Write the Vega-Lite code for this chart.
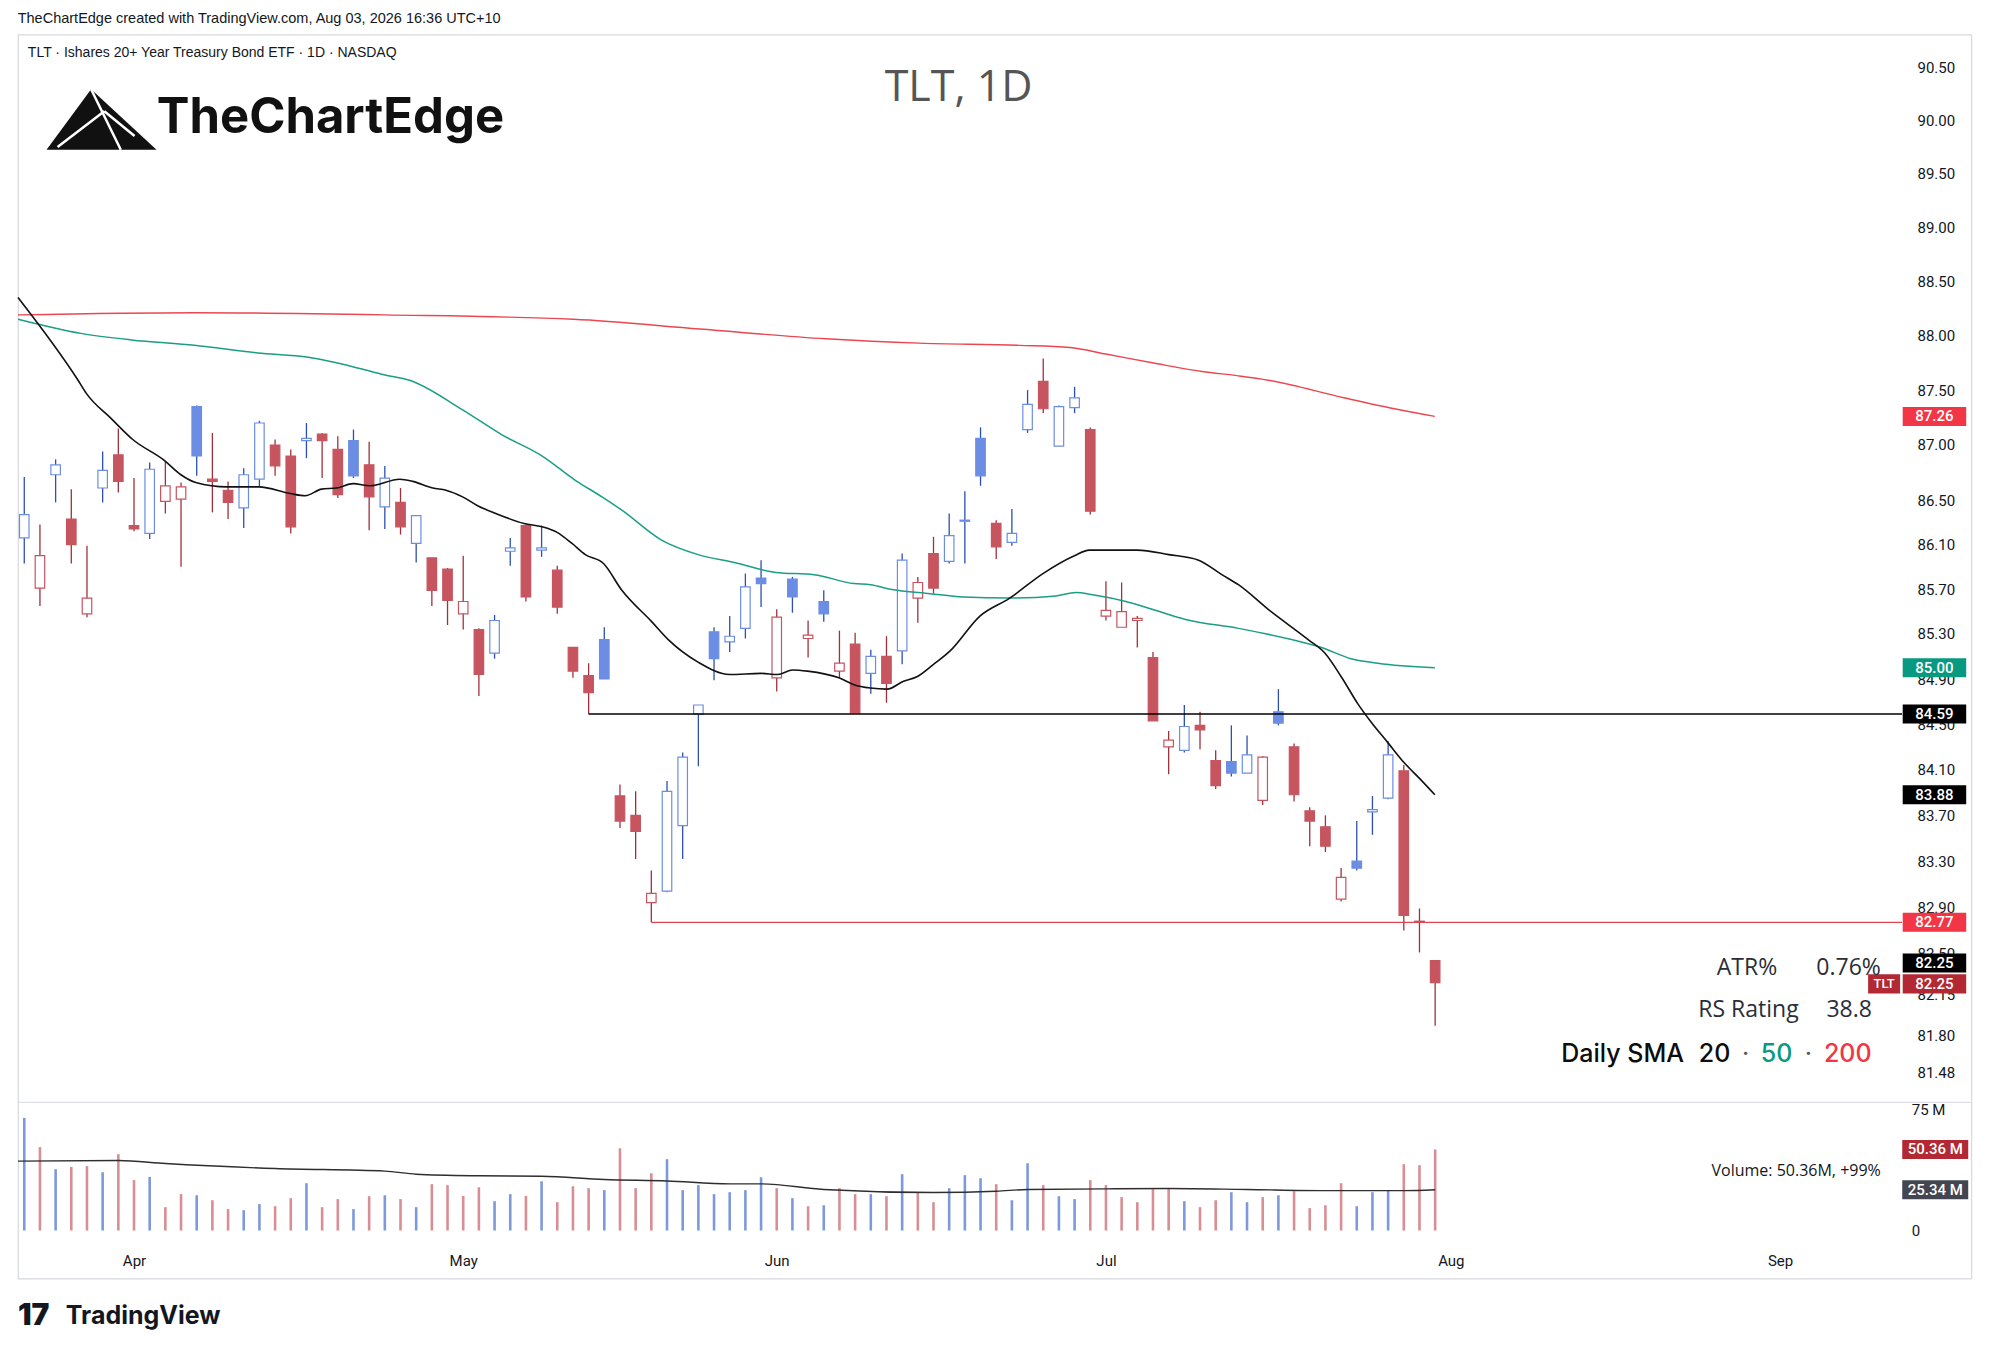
{
"$schema": "https://vega.github.io/schema/vega-lite/v6.json",
"width": 1894.3,
"height": 1210.2,
"autosize": {"type": "none"},
"padding": {"left": 12.7, "top": 34.3, "right": 84, "bottom": 108.5},
"background": "#ffffff",
"config": {"view": {"stroke": null}, "legend": {"disable": true}},
"datasets": {
"candles": [
{"i":0,"d":"2026-03-23","o":86.16,"h":86.71,"l":85.93,"c":86.37,"chg":"up","vol":70.0},
{"i":1,"d":"2026-03-24","o":85.71,"h":86.28,"l":85.55,"c":86.00,"chg":"down","vol":51.8},
{"i":2,"d":"2026-03-25","o":86.73,"h":86.87,"l":86.48,"c":86.82,"chg":"up","vol":38.1},
{"i":3,"d":"2026-03-26","o":86.33,"h":86.60,"l":85.93,"c":86.10,"chg":"down","vol":39.5},
{"i":4,"d":"2026-03-27","o":85.48,"h":86.09,"l":85.45,"c":85.62,"chg":"down","vol":40.0},
{"i":5,"d":"2026-03-30","o":86.61,"h":86.94,"l":86.48,"c":86.77,"chg":"up","vol":36.2},
{"i":6,"d":"2026-03-31","o":86.91,"h":87.15,"l":86.57,"c":86.67,"chg":"down","vol":47.4},
{"i":7,"d":"2026-04-01","o":86.27,"h":86.70,"l":86.22,"c":86.24,"chg":"down","vol":31.3},
{"i":8,"d":"2026-04-02","o":86.20,"h":86.84,"l":86.15,"c":86.78,"chg":"up","vol":33.3},
{"i":9,"d":"2026-04-06","o":86.49,"h":86.85,"l":86.38,"c":86.63,"chg":"down","vol":14.5},
{"i":10,"d":"2026-04-07","o":86.51,"h":86.66,"l":85.90,"c":86.62,"chg":"down","vol":22.6},
{"i":11,"d":"2026-04-08","o":87.35,"h":87.36,"l":86.72,"c":86.90,"chg":"up","vol":21.9},
{"i":12,"d":"2026-04-09","o":86.69,"h":87.11,"l":86.39,"c":86.67,"chg":"down","vol":18.8},
{"i":13,"d":"2026-04-10","o":86.59,"h":86.67,"l":86.33,"c":86.48,"chg":"down","vol":13.3},
{"i":14,"d":"2026-04-13","o":86.43,"h":86.79,"l":86.25,"c":86.73,"chg":"up","vol":12.6},
{"i":15,"d":"2026-04-14","o":86.69,"h":87.22,"l":86.62,"c":87.20,"chg":"up","vol":16.4},
{"i":16,"d":"2026-04-15","o":87.00,"h":87.05,"l":86.72,"c":86.81,"chg":"down","vol":15.1},
{"i":17,"d":"2026-04-16","o":86.90,"h":86.96,"l":86.20,"c":86.26,"chg":"down","vol":20.1},
{"i":18,"d":"2026-04-17","o":87.04,"h":87.20,"l":86.88,"c":87.06,"chg":"up","vol":29.4},
{"i":19,"d":"2026-04-20","o":87.10,"h":87.11,"l":86.70,"c":87.04,"chg":"down","vol":14.5},
{"i":20,"d":"2026-04-21","o":86.96,"h":87.08,"l":86.52,"c":86.55,"chg":"down","vol":19.5},
{"i":21,"d":"2026-04-22","o":87.04,"h":87.14,"l":86.70,"c":86.72,"chg":"up","vol":13.3},
{"i":22,"d":"2026-04-23","o":86.82,"h":87.03,"l":86.23,"c":86.53,"chg":"down","vol":21.3},
{"i":23,"d":"2026-04-24","o":86.44,"h":86.81,"l":86.24,"c":86.70,"chg":"up","vol":21.9},
{"i":24,"d":"2026-04-27","o":86.48,"h":86.61,"l":86.19,"c":86.26,"chg":"down","vol":19.5},
{"i":25,"d":"2026-04-28","o":86.11,"h":86.36,"l":85.94,"c":86.36,"chg":"up","vol":14.5},
{"i":26,"d":"2026-04-29","o":85.98,"h":85.98,"l":85.55,"c":85.69,"chg":"down","vol":28.8},
{"i":27,"d":"2026-04-30","o":85.88,"h":85.89,"l":85.38,"c":85.60,"chg":"down","vol":28.2},
{"i":28,"d":"2026-05-01","o":85.48,"h":86.00,"l":85.34,"c":85.59,"chg":"down","vol":21.5},
{"i":29,"d":"2026-05-04","o":85.34,"h":85.35,"l":84.75,"c":84.94,"chg":"down","vol":26.9},
{"i":30,"d":"2026-05-05","o":85.13,"h":85.47,"l":85.08,"c":85.42,"chg":"up","vol":18.2},
{"i":31,"d":"2026-05-06","o":86.04,"h":86.16,"l":85.91,"c":86.07,"chg":"up","vol":22.6},
{"i":32,"d":"2026-05-07","o":86.27,"h":86.28,"l":85.59,"c":85.63,"chg":"down","vol":21.5},
{"i":33,"d":"2026-05-08","o":86.05,"h":86.27,"l":85.99,"c":86.07,"chg":"up","vol":30.6},
{"i":34,"d":"2026-05-11","o":85.87,"h":85.91,"l":85.48,"c":85.54,"chg":"down","vol":17.6},
{"i":35,"d":"2026-05-12","o":85.18,"h":85.18,"l":84.91,"c":84.97,"chg":"down","vol":27.5},
{"i":36,"d":"2026-05-13","o":84.93,"h":85.04,"l":84.59,"c":84.78,"chg":"down","vol":26.3},
{"i":37,"d":"2026-05-14","o":85.25,"h":85.36,"l":84.90,"c":84.90,"chg":"up","vol":25.1},
{"i":38,"d":"2026-05-15","o":83.87,"h":83.97,"l":83.59,"c":83.65,"chg":"down","vol":51.1},
{"i":39,"d":"2026-05-18","o":83.70,"h":83.91,"l":83.32,"c":83.56,"chg":"down","vol":26.3},
{"i":40,"d":"2026-05-19","o":82.94,"h":83.22,"l":82.77,"c":83.02,"chg":"down","vol":35.6},
{"i":41,"d":"2026-05-20","o":83.04,"h":84.00,"l":83.03,"c":83.91,"chg":"up","vol":44.3},
{"i":42,"d":"2026-05-21","o":83.61,"h":84.25,"l":83.32,"c":84.21,"chg":"up","vol":25.1},
{"i":43,"d":"2026-05-22","o":84.59,"h":84.67,"l":84.13,"c":84.67,"chg":"up","vol":28.2},
{"i":44,"d":"2026-05-26","o":85.32,"h":85.36,"l":84.89,"c":85.08,"chg":"up","vol":22.6},
{"i":45,"d":"2026-05-27","o":85.23,"h":85.46,"l":85.14,"c":85.28,"chg":"up","vol":23.8},
{"i":46,"d":"2026-05-28","o":85.35,"h":85.84,"l":85.26,"c":85.72,"chg":"up","vol":25.1},
{"i":47,"d":"2026-05-29","o":85.80,"h":85.96,"l":85.54,"c":85.75,"chg":"up","vol":33.1},
{"i":48,"d":"2026-06-01","o":84.91,"h":85.52,"l":84.79,"c":85.45,"chg":"down","vol":26.3},
{"i":49,"d":"2026-06-02","o":85.79,"h":85.81,"l":85.49,"c":85.63,"chg":"up","vol":20.1},
{"i":50,"d":"2026-06-03","o":85.26,"h":85.42,"l":85.09,"c":85.29,"chg":"down","vol":15.1},
{"i":51,"d":"2026-06-04","o":85.59,"h":85.69,"l":85.41,"c":85.48,"chg":"up","vol":15.7},
{"i":52,"d":"2026-06-05","o":84.97,"h":85.33,"l":84.91,"c":85.04,"chg":"down","vol":26.3},
{"i":53,"d":"2026-06-08","o":85.21,"h":85.31,"l":84.60,"c":84.60,"chg":"down","vol":22.6},
{"i":54,"d":"2026-06-09","o":84.95,"h":85.16,"l":84.77,"c":85.10,"chg":"up","vol":22.6},
{"i":55,"d":"2026-06-10","o":85.10,"h":85.28,"l":84.69,"c":84.86,"chg":"down","vol":21.3},
{"i":56,"d":"2026-06-11","o":85.15,"h":86.02,"l":85.03,"c":85.96,"chg":"up","vol":35.0},
{"i":57,"d":"2026-06-12","o":85.62,"h":85.81,"l":85.40,"c":85.76,"chg":"down","vol":23.4},
{"i":58,"d":"2026-06-15","o":86.02,"h":86.17,"l":85.66,"c":85.71,"chg":"down","vol":17.6},
{"i":59,"d":"2026-06-16","o":85.95,"h":86.38,"l":85.93,"c":86.18,"chg":"up","vol":26.3},
{"i":60,"d":"2026-06-17","o":86.31,"h":86.58,"l":85.93,"c":86.32,"chg":"up","vol":34.4},
{"i":61,"d":"2026-06-18","o":87.06,"h":87.16,"l":86.63,"c":86.72,"chg":"up","vol":32.5},
{"i":62,"d":"2026-06-22","o":86.29,"h":86.32,"l":85.97,"c":86.08,"chg":"down","vol":28.8},
{"i":63,"d":"2026-06-23","o":86.12,"h":86.42,"l":86.09,"c":86.20,"chg":"up","vol":18.8},
{"i":64,"d":"2026-06-24","o":87.14,"h":87.50,"l":87.11,"c":87.37,"chg":"up","vol":41.8},
{"i":65,"d":"2026-06-25","o":87.58,"h":87.79,"l":87.29,"c":87.33,"chg":"down","vol":28.2},
{"i":66,"d":"2026-06-26","o":86.99,"h":87.36,"l":86.99,"c":87.35,"chg":"up","vol":21.3},
{"i":67,"d":"2026-06-29","o":87.34,"h":87.53,"l":87.29,"c":87.43,"chg":"up","vol":19.5},
{"i":68,"d":"2026-06-30","o":87.14,"h":87.16,"l":86.37,"c":86.40,"chg":"down","vol":31.3},
{"i":69,"d":"2026-07-01","o":85.46,"h":85.77,"l":85.42,"c":85.51,"chg":"down","vol":28.2},
{"i":70,"d":"2026-07-02","o":85.36,"h":85.76,"l":85.36,"c":85.50,"chg":"down","vol":20.7},
{"i":71,"d":"2026-07-06","o":85.42,"h":85.46,"l":85.18,"c":85.44,"chg":"down","vol":17.6},
{"i":72,"d":"2026-07-07","o":85.09,"h":85.14,"l":84.53,"c":84.53,"chg":"down","vol":25.7},
{"i":73,"d":"2026-07-08","o":84.30,"h":84.44,"l":84.06,"c":84.36,"chg":"down","vol":26.3},
{"i":74,"d":"2026-07-09","o":84.27,"h":84.67,"l":84.25,"c":84.48,"chg":"up","vol":18.2},
{"i":75,"d":"2026-07-10","o":84.49,"h":84.61,"l":84.28,"c":84.45,"chg":"down","vol":14.5},
{"i":76,"d":"2026-07-13","o":84.18,"h":84.27,"l":83.93,"c":83.96,"chg":"down","vol":18.8},
{"i":77,"d":"2026-07-14","o":84.17,"h":84.49,"l":84.04,"c":84.07,"chg":"up","vol":23.8},
{"i":78,"d":"2026-07-15","o":84.07,"h":84.40,"l":84.07,"c":84.23,"chg":"up","vol":17.6},
{"i":79,"d":"2026-07-16","o":83.83,"h":84.22,"l":83.79,"c":84.21,"chg":"down","vol":20.7},
{"i":80,"d":"2026-07-17","o":84.61,"h":84.81,"l":84.49,"c":84.51,"chg":"up","vol":21.9},
{"i":81,"d":"2026-07-20","o":84.30,"h":84.33,"l":83.82,"c":83.88,"chg":"down","vol":24.4},
{"i":82,"d":"2026-07-21","o":83.74,"h":83.77,"l":83.43,"c":83.65,"chg":"down","vol":13.9},
{"i":83,"d":"2026-07-22","o":83.60,"h":83.70,"l":83.38,"c":83.43,"chg":"down","vol":15.7},
{"i":84,"d":"2026-07-23","o":82.97,"h":83.24,"l":82.95,"c":83.16,"chg":"down","vol":29.4},
{"i":85,"d":"2026-07-24","o":83.30,"h":83.65,"l":83.22,"c":83.24,"chg":"up","vol":15.1},
{"i":86,"d":"2026-07-27","o":83.73,"h":83.87,"l":83.53,"c":83.75,"chg":"up","vol":23.8},
{"i":87,"d":"2026-07-28","o":83.85,"h":84.35,"l":83.84,"c":84.23,"chg":"up","vol":24.8},
{"i":88,"d":"2026-07-29","o":84.09,"h":84.14,"l":82.70,"c":82.83,"chg":"down","vol":41.2},
{"i":89,"d":"2026-07-30","o":82.78,"h":82.89,"l":82.51,"c":82.77,"chg":"down","vol":40.6},
{"i":90,"d":"2026-07-31","o":82.44,"h":82.44,"l":81.88,"c":82.25,"chg":"down","vol":50.36}
],
"sma": [
{"s":"20","i":-0.4,"v":88.35},{"s":"20","i":3.43,"v":87.59},{"s":"20","i":3.96,"v":87.47},{"s":"20","i":5.55,"v":87.24},{"s":"20","i":6.92,"v":87.05},{"s":"20","i":8.93,"v":86.86},{"s":"20","i":9.99,"v":86.73},{"s":"20","i":10.94,"v":86.66},{"s":"20","i":12.94,"v":86.62},{"s":"20","i":14.96,"v":86.62},{"s":"20","i":16.97,"v":86.56},{"s":"20","i":17.92,"v":86.54},{"s":"20","i":18.97,"v":86.60},{"s":"20","i":19.92,"v":86.61},{"s":"20","i":20.98,"v":86.65},{"s":"20","i":22.04,"v":86.63},{"s":"20","i":23.95,"v":86.69},{"s":"20","i":24.79,"v":86.67},{"s":"20","i":26.06,"v":86.61},{"s":"20","i":26.9,"v":86.59},{"s":"20","i":27.96,"v":86.53},{"s":"20","i":28.92,"v":86.45},{"s":"20","i":30.08,"v":86.38},{"s":"20","i":31.88,"v":86.29},{"s":"20","i":33.04,"v":86.26},{"s":"20","i":33.99,"v":86.21},{"s":"20","i":34.94,"v":86.11},{"s":"20","i":35.79,"v":86.01},{"s":"20","i":36.95,"v":85.93},{"s":"20","i":38.12,"v":85.69},{"s":"20","i":40.02,"v":85.41},{"s":"20","i":41.08,"v":85.25},{"s":"20","i":42.98,"v":85.05},{"s":"20","i":44.99,"v":84.94},{"s":"20","i":47,"v":84.95},{"s":"20","i":48.06,"v":84.94},{"s":"20","i":49.01,"v":84.98},{"s":"20","i":49.96,"v":84.97},{"s":"20","i":51.97,"v":84.91},{"s":"20","i":52.92,"v":84.85},{"s":"20","i":53.98,"v":84.82},{"s":"20","i":55.04,"v":84.81},{"s":"20","i":56.09,"v":84.88},{"s":"20","i":56.94,"v":84.92},{"s":"20","i":58,"v":85.03},{"s":"20","i":59.06,"v":85.15},{"s":"20","i":60.96,"v":85.46},{"s":"20","i":62.86,"v":85.62},{"s":"20","i":64.98,"v":85.84},{"s":"20","i":66.99,"v":86.00},{"s":"20","i":67.94,"v":86.05},{"s":"20","i":69.84,"v":86.05},{"s":"20","i":71,"v":86.05},{"s":"20","i":73.01,"v":86.01},{"s":"20","i":74.91,"v":85.96},{"s":"20","i":76.39,"v":85.83},{"s":"20","i":77.45,"v":85.74},{"s":"20","i":79.35,"v":85.52},{"s":"20","i":81.9,"v":85.25},{"s":"20","i":82.96,"v":85.13},{"s":"20","i":84.01,"v":84.92},{"s":"20","i":85.07,"v":84.68},{"s":"20","i":85.91,"v":84.52},{"s":"20","i":86.97,"v":84.34},{"s":"20","i":88.03,"v":84.16},{"s":"20","i":89.09,"v":84.01},{"s":"20","i":89.98,"v":83.88},
{"s":"50","i":-0.4,"v":88.15},{"s":"50","i":3.61,"v":88.02},{"s":"50","i":6.83,"v":87.96},{"s":"50","i":10.86,"v":87.91},{"s":"50","i":14.89,"v":87.84},{"s":"50","i":18.12,"v":87.80},{"s":"50","i":21.34,"v":87.70},{"s":"50","i":22.95,"v":87.64},{"s":"50","i":24.58,"v":87.59},{"s":"50","i":27.96,"v":87.32},{"s":"50","i":30.5,"v":87.09},{"s":"50","i":33.04,"v":86.90},{"s":"50","i":35.15,"v":86.68},{"s":"50","i":36.85,"v":86.53},{"s":"50","i":38.12,"v":86.41},{"s":"50","i":40.65,"v":86.14},{"s":"50","i":42.98,"v":86.01},{"s":"50","i":45.3,"v":85.94},{"s":"50","i":47.95,"v":85.85},{"s":"50","i":50.38,"v":85.83},{"s":"50","i":52.92,"v":85.75},{"s":"50","i":53.98,"v":85.74},{"s":"50","i":55.25,"v":85.70},{"s":"50","i":57.79,"v":85.66},{"s":"50","i":59.9,"v":85.63},{"s":"50","i":62.86,"v":85.62},{"s":"50","i":65.82,"v":85.64},{"s":"50","i":67.09,"v":85.67},{"s":"50","i":68.15,"v":85.65},{"s":"50","i":70.27,"v":85.59},{"s":"50","i":71.95,"v":85.52},{"s":"50","i":74.07,"v":85.43},{"s":"50","i":77.45,"v":85.35},{"s":"50","i":80.84,"v":85.25},{"s":"50","i":82.74,"v":85.18},{"s":"50","i":84.64,"v":85.08},{"s":"50","i":86.34,"v":85.04},{"s":"50","i":89.98,"v":85.00},
{"s":"200","i":-0.4,"v":88.19},{"s":"200","i":10.86,"v":88.21},{"s":"200","i":22.95,"v":88.19},{"s":"200","i":35.03,"v":88.15},{"s":"200","i":43.09,"v":88.06},{"s":"200","i":51.15,"v":87.97},{"s":"200","i":57.1,"v":87.93},{"s":"200","i":63.5,"v":87.91},{"s":"200","i":66.7,"v":87.89},{"s":"200","i":69,"v":87.83},{"s":"200","i":71.96,"v":87.75},{"s":"200","i":75.13,"v":87.67},{"s":"200","i":77.45,"v":87.63},{"s":"200","i":79.36,"v":87.59},{"s":"200","i":84.18,"v":87.43},{"s":"200","i":87.4,"v":87.33},{"s":"200","i":89.98,"v":87.26}
],
"vma": [
{"i":-0.4,"v":43.1},{"i":6,"v":43.5},{"i":9,"v":41.6},{"i":16,"v":38.5},{"i":23,"v":36.9},{"i":25,"v":35.0},{"i":29,"v":34.0},{"i":33,"v":33.7},{"i":37,"v":31.7},{"i":41,"v":30.8},{"i":45,"v":29.0},{"i":47,"v":29.0},{"i":51,"v":25.5},{"i":58,"v":23.6},{"i":62,"v":24.4},{"i":64,"v":25.5},{"i":69,"v":25.9},{"i":73,"v":26.1},{"i":78,"v":25.5},{"i":83,"v":24.8},{"i":88,"v":24.8},{"i":90,"v":25.34}
],
"frame": [
{"i":-0.419,"i2":124.22,"v":79.7,"v2":79.7},
{"i":-0.419,"i2":124.22,"v":743.0,"v2":743.0},
{"i":-0.419,"i2":124.22,"v":-30.1,"v2":-30.1},
{"i":-0.38,"i2":-0.38,"v":743.0,"v2":-30.1},
{"i":124.22,"i2":124.22,"v":743.0,"v2":-30.1}
],
"levels": [
{"k":"blk","i":36,"p":84.59},
{"k":"red","i":40,"p":82.77}
],
"tags": [
{"k":"sma200","i":121.85,"p":87.26,"txt":"87.26"},
{"k":"sma50","i":121.85,"p":85.00,"txt":"85.00"},
{"k":"blk","i":121.85,"p":84.59,"txt":"84.59"},
{"k":"blk","i":121.85,"p":83.88,"txt":"83.88"},
{"k":"red","i":121.85,"p":82.77,"txt":"82.77"},
{"k":"blk","i":121.85,"p":82.42,"txt":"82.25"},
{"k":"tlt","i":121.85,"p":82.24,"txt":"82.25"}
],
"tagname": [
{"k":"tlt","i":118.64,"p":82.24,"txt":"TLT"}
],
"notes": [
{"id":"hdr","txt":"TheChartEdge created with TradingView.com, Aug 03, 2026 16:36 UTC+10","i":-0.42,"p":90.958},
{"id":"sub","txt":"TLT · Ishares 20+ Year Treasury Bond ETF · 1D · NASDAQ","i":0.23,"p":90.632},
{"id":"ttl","txt":"TLT, 1D","i":59.6,"p":90.30},
{"id":"logo","txt":"TheChartEdge","i":8.45,"p":90.021},
{"id":"icon","txt":"","i":4.93,"p":90.008},
{"id":"atr","txt":"ATR%","i":111.82,"p":82.38},
{"id":"atr","txt":"0.76%","i":118.43,"p":82.38},
{"id":"atr","txt":"RS Rating","i":113.19,"p":82.02},
{"id":"atr","txt":"38.8","i":117.86,"p":82.02},
{"id":"sma","txt":"Daily SMA","i":98.04,"p":81.64},
{"id":"s20","txt":"20","i":106.82,"p":81.64},
{"id":"dot","txt":"·","i":109.8,"p":81.64},
{"id":"s50","txt":"50","i":110.77,"p":81.64},
{"id":"dot","txt":"·","i":113.8,"p":81.64},
{"id":"s200","txt":"200","i":114.8,"p":81.64}
],
"vnotes": [
{"id":"vtxt","txt":"Volume: 50.36M, +99%","i":118.43,"vol":37.1},
{"id":"tv","txt":"TradingView","i":2.65,"vol":-53.1},
{"id":"tvl","txt":"17","i":-0.4,"vol":-53.1},
{"id":"ax","txt":"75 M","i":120.4,"vol":75},
{"id":"ax","txt":"0","i":120.4,"vol":0}
],
"vtags": [
{"k":"vlast","i":121.9,"vol":50.36,"txt":"50.36 M"},
{"k":"vavg","i":121.9,"vol":25.34,"txt":"25.34 M"}
]
},
"encoding": {
"x": {"field": "i", "type": "quantitative",
"scale": {"domain": [-0.419, 119.78], "nice": false, "zero": false},
"axis": {"orient": "bottom", "values": [7, 28, 48, 69, 91, 112],
"labelExpr": "datum.value == 7 ? 'Apr' : datum.value == 28 ? 'May' : datum.value == 48 ? 'Jun' : datum.value == 69 ? 'Jul' : datum.value == 91 ? 'Aug' : 'Sep'",
"ticks": false, "tickSize": 0, "domain": false, "grid": false, "labelPadding": 9,
"labelFont": "Roboto", "labelFontSize": 15, "labelColor": "#131722", "labelFlush": false, "labelOverlap": false, "title": null}}
},
"layer": [
{"data": {"name": "frame"},
"mark": {"type": "rule", "color": "#d6d9e0", "strokeWidth": 1.2},
"encoding": {"x2": {"field": "i2"}, "y": {"field": "v", "type": "quantitative", "scale": {"domain": [-8.7, 743.4], "nice": false, "zero": false}, "axis": null}, "y2": {"field": "v2"}}},
{"data": {"name": "candles"},
"mark": {"type": "rule", "strokeWidth": 2.6},
"encoding": {
"y": {"field": "vol", "type": "quantitative", "scale": {"domain": [-8.7, 743.4], "nice": false, "zero": false}, "axis": null},
"y2": {"datum": 0},
"color": {"field": "chg", "type": "nominal", "scale": {"domain": ["up", "down"], "range": ["#7e98dc", "#d98d94"]}}
}},
{"data": {"name": "vma"},
"mark": {"type": "line", "color": "#2e2e2e", "strokeWidth": 1.4, "interpolate": "monotone"},
"encoding": {"y": {"field": "v", "type": "quantitative", "scale": {"domain": [-8.7, 743.4], "nice": false, "zero": false}, "axis": null}}},
{"data": {"name": "candles"},
"mark": {"type": "rule", "strokeWidth": 1.3},
"encoding": {
"y": {"field": "l", "type": "quantitative",
"scale": {"type": "log", "domain": [80.032, 90.812], "nice": false, "zero": false},
"axis": {"orient": "right", "values": [90.5, 90, 89.5, 89, 88.5, 88, 87.5, 87, 86.5, 86.1, 85.7, 85.3, 84.9, 84.5, 84.1, 83.7, 83.3, 82.9, 82.5, 82.15, 81.8, 81.48],
"format": ".2f", "ticks": false, "tickSize": 0, "domain": false, "grid": false, "labelPadding": 10, "labelAlign": "left", "labelBaseline": "middle",
"labelFont": "Roboto", "labelFontSize": 15, "labelColor": "#131722", "labelOverlap": false, "labelFlush": false, "labelBound": false, "title": null}},
"y2": {"field": "h"},
"color": {"field": "chg", "type": "nominal", "scale": {"domain": ["up", "down"], "range": ["#2c4fb0", "#a0303b"]}}
}},
{"data": {"name": "candles"},
"mark": {"type": "bar", "width": 9.5, "strokeWidth": 1.2},
"encoding": {
"y": {"field": "o", "type": "quantitative", "scale": {"type": "log", "domain": [80.032, 90.812], "nice": false, "zero": false}, "axis": null},
"y2": {"field": "c"},
"fill": {"condition": {"test": "datum.c > datum.o", "value": "#ffffff"}, "field": "chg", "type": "nominal",
"scale": {"domain": ["up", "down"], "range": ["#6b8de3", "#c65560"]}},
"stroke": {"field": "chg", "type": "nominal", "scale": {"domain": ["up", "down"], "range": ["#6b8de3", "#c65560"]}}
}},
{"data": {"name": "sma"}, "transform": [{"filter": "datum.s === '200'"}],
"mark": {"type": "line", "color": "#ec4650", "strokeWidth": 1.4, "interpolate": "monotone"},
"encoding": {"y": {"field": "v", "type": "quantitative", "scale": {"type": "log", "domain": [80.032, 90.812], "nice": false, "zero": false}, "axis": null}}},
{"data": {"name": "sma"}, "transform": [{"filter": "datum.s === '50'"}],
"mark": {"type": "line", "color": "#1a9e86", "strokeWidth": 1.5, "interpolate": "monotone"},
"encoding": {"y": {"field": "v", "type": "quantitative", "scale": {"type": "log", "domain": [80.032, 90.812], "nice": false, "zero": false}, "axis": null}}},
{"data": {"name": "sma"}, "transform": [{"filter": "datum.s === '20'"}],
"mark": {"type": "line", "color": "#111111", "strokeWidth": 1.6, "interpolate": "monotone"},
"encoding": {"y": {"field": "v", "type": "quantitative", "scale": {"type": "log", "domain": [80.032, 90.812], "nice": false, "zero": false}, "axis": null}}},
{"data": {"name": "levels"}, "transform": [{"filter": "datum.k === 'blk'"}],
"mark": {"type": "rule", "color": "#000000", "strokeWidth": 1.6},
"encoding": {"x2": {"datum": 119.78}, "y": {"field": "p", "type": "quantitative", "scale": {"type": "log", "domain": [80.032, 90.812], "nice": false, "zero": false}, "axis": null}}},
{"data": {"name": "levels"}, "transform": [{"filter": "datum.k === 'red'"}],
"mark": {"type": "rule", "color": "#e04452", "strokeWidth": 1.2},
"encoding": {"x2": {"datum": 119.78}, "y": {"field": "p", "type": "quantitative", "scale": {"type": "log", "domain": [80.032, 90.812], "nice": false, "zero": false}, "axis": null}}},
{"data": {"name": "tags"},
"mark": {"type": "point", "shape": "M-1,-0.3L1,-0.3L1,0.3L-1,0.3Z", "filled": true, "size": 4032, "opacity": 1, "strokeWidth": 0},
"encoding": {"y": {"field": "p", "type": "quantitative", "scale": {"type": "log", "domain": [80.032, 90.812], "nice": false, "zero": false}, "axis": null},
"fill": {"field": "k", "type": "nominal", "scale": {"domain": ["sma200", "sma50", "blk", "red", "tlt"], "range": ["#f23645", "#089981", "#000000", "#f23645", "#b22833"]}}}},
{"data": {"name": "tagname"},
"mark": {"type": "point", "shape": "M-1,-0.6L1,-0.6L1,0.6L-1,0.6Z", "filled": true, "size": 1024, "opacity": 1, "strokeWidth": 0, "color": "#b22833"},
"encoding": {"y": {"field": "p", "type": "quantitative", "scale": {"type": "log", "domain": [80.032, 90.812], "nice": false, "zero": false}, "axis": null}}},
{"data": {"name": "tags"},
"mark": {"type": "text", "align": "center", "baseline": "middle", "font": "Roboto", "fontSize": 15, "fontWeight": 500, "color": "#ffffff"},
"encoding": {"y": {"field": "p", "type": "quantitative", "scale": {"type": "log", "domain": [80.032, 90.812], "nice": false, "zero": false}, "axis": null}, "text": {"field": "txt"}}},
{"data": {"name": "tagname"},
"mark": {"type": "text", "align": "center", "baseline": "middle", "font": "Roboto", "fontSize": 13, "fontWeight": 500, "color": "#ffffff"},
"encoding": {"y": {"field": "p", "type": "quantitative", "scale": {"type": "log", "domain": [80.032, 90.812], "nice": false, "zero": false}, "axis": null}, "text": {"field": "txt"}}},
{"data": {"name": "notes"}, "transform": [{"filter": "datum.id === 'hdr'"}],
"mark": {"type": "text", "align": "left", "baseline": "middle", "font": "Liberation Sans", "fontSize": 14.5, "color": "#131722"},
"encoding": {"y": {"field": "p", "type": "quantitative", "scale": {"type": "log", "domain": [80.032, 90.812], "nice": false, "zero": false}, "axis": null}, "text": {"field": "txt"}}},
{"data": {"name": "notes"}, "transform": [{"filter": "datum.id === 'sub'"}],
"mark": {"type": "text", "align": "left", "baseline": "middle", "font": "Liberation Sans", "fontSize": 14, "color": "#131722"},
"encoding": {"y": {"field": "p", "type": "quantitative", "scale": {"type": "log", "domain": [80.032, 90.812], "nice": false, "zero": false}, "axis": null}, "text": {"field": "txt"}}},
{"data": {"name": "notes"}, "transform": [{"filter": "datum.id === 'ttl'"}],
"mark": {"type": "text", "align": "center", "baseline": "middle", "font": "Open Sans", "fontSize": 43, "color": "#555555"},
"encoding": {"y": {"field": "p", "type": "quantitative", "scale": {"type": "log", "domain": [80.032, 90.812], "nice": false, "zero": false}, "axis": null}, "text": {"field": "txt"}}},
{"data": {"name": "notes"}, "transform": [{"filter": "datum.id === 'logo'"}],
"mark": {"type": "text", "align": "left", "baseline": "middle", "font": "Inter", "fontSize": 49, "fontWeight": 700, "color": "#111111"},
"encoding": {"y": {"field": "p", "type": "quantitative", "scale": {"type": "log", "domain": [80.032, 90.812], "nice": false, "zero": false}, "axis": null}, "text": {"field": "txt"}}},
{"data": {"name": "notes"}, "transform": [{"filter": "datum.id === 'icon'"}],
"mark": {"type": "point", "shape": "M-1,0.55L-0.19,-0.55L1,0.55Z", "filled": true, "size": 12100, "opacity": 1, "color": "#111111", "strokeWidth": 0},
"encoding": {"y": {"field": "p", "type": "quantitative", "scale": {"type": "log", "domain": [80.032, 90.812], "nice": false, "zero": false}, "axis": null}}},
{"data": {"name": "notes"}, "transform": [{"filter": "datum.id === 'icon'"}],
"mark": {"type": "point", "shape": "M-0.8,0.5L0.05,-0.15M-0.19,-0.55L0.35,0.55M0.05,-0.15L0.6,0.3", "filled": false, "size": 12100, "opacity": 1, "color": "#ffffff", "strokeWidth": 2.5},
"encoding": {"y": {"field": "p", "type": "quantitative", "scale": {"type": "log", "domain": [80.032, 90.812], "nice": false, "zero": false}, "axis": null}}},
{"data": {"name": "notes"}, "transform": [{"filter": "datum.id === 'atr'"}],
"mark": {"type": "text", "align": "right", "baseline": "middle", "font": "Open Sans", "fontSize": 23, "color": "#2a2e39"},
"encoding": {"y": {"field": "p", "type": "quantitative", "scale": {"type": "log", "domain": [80.032, 90.812], "nice": false, "zero": false}, "axis": null}, "text": {"field": "txt"}}},
{"data": {"name": "notes"}, "transform": [{"filter": "datum.id === 'sma' || datum.id === 's20'"}],
"mark": {"type": "text", "align": "left", "baseline": "middle", "font": "Inter", "fontSize": 25, "fontWeight": 500, "color": "#0d0d0d"},
"encoding": {"y": {"field": "p", "type": "quantitative", "scale": {"type": "log", "domain": [80.032, 90.812], "nice": false, "zero": false}, "axis": null}, "text": {"field": "txt"}}},
{"data": {"name": "notes"}, "transform": [{"filter": "datum.id === 's50'"}],
"mark": {"type": "text", "align": "left", "baseline": "middle", "font": "Inter", "fontSize": 25, "fontWeight": 500, "color": "#089981"},
"encoding": {"y": {"field": "p", "type": "quantitative", "scale": {"type": "log", "domain": [80.032, 90.812], "nice": false, "zero": false}, "axis": null}, "text": {"field": "txt"}}},
{"data": {"name": "notes"}, "transform": [{"filter": "datum.id === 's200'"}],
"mark": {"type": "text", "align": "left", "baseline": "middle", "font": "Inter", "fontSize": 25, "fontWeight": 500, "color": "#f23645"},
"encoding": {"y": {"field": "p", "type": "quantitative", "scale": {"type": "log", "domain": [80.032, 90.812], "nice": false, "zero": false}, "axis": null}, "text": {"field": "txt"}}},
{"data": {"name": "notes"}, "transform": [{"filter": "datum.id === 'dot'"}],
"mark": {"type": "text", "align": "center", "baseline": "middle", "font": "Inter", "fontSize": 25, "color": "#555555"},
"encoding": {"y": {"field": "p", "type": "quantitative", "scale": {"type": "log", "domain": [80.032, 90.812], "nice": false, "zero": false}, "axis": null}, "text": {"field": "txt"}}},
{"data": {"name": "vtags"},
"mark": {"type": "point", "shape": "M-1,-0.288L1,-0.288L1,0.288L-1,0.288Z", "filled": true, "size": 4356, "opacity": 1, "strokeWidth": 0},
"encoding": {"y": {"field": "vol", "type": "quantitative", "scale": {"domain": [-8.7, 743.4], "nice": false, "zero": false}, "axis": null},
"fill": {"field": "k", "type": "nominal", "scale": {"domain": ["vlast", "vavg"], "range": ["#b22833", "#434651"]}}}},
{"data": {"name": "vtags"},
"mark": {"type": "text", "align": "center", "baseline": "middle", "font": "Roboto", "fontSize": 15, "fontWeight": 500, "color": "#ffffff"},
"encoding": {"y": {"field": "vol", "type": "quantitative", "scale": {"domain": [-8.7, 743.4], "nice": false, "zero": false}, "axis": null}, "text": {"field": "txt"}}},
{"data": {"name": "vnotes"}, "transform": [{"filter": "datum.id === 'ax'"}],
"mark": {"type": "text", "align": "left", "baseline": "middle", "font": "Roboto", "fontSize": 15, "color": "#131722"},
"encoding": {"y": {"field": "vol", "type": "quantitative", "scale": {"domain": [-8.7, 743.4], "nice": false, "zero": false}, "axis": null}, "text": {"field": "txt"}}},
{"data": {"name": "vnotes"}, "transform": [{"filter": "datum.id === 'vtxt'"}],
"mark": {"type": "text", "align": "right", "baseline": "middle", "font": "Open Sans", "fontSize": 16, "color": "#131722"},
"encoding": {"y": {"field": "vol", "type": "quantitative", "scale": {"domain": [-8.7, 743.4], "nice": false, "zero": false}, "axis": null}, "text": {"field": "txt"}}},
{"data": {"name": "vnotes"}, "transform": [{"filter": "datum.id === 'tv'"}],
"mark": {"type": "text", "align": "left", "baseline": "middle", "font": "Inter", "fontSize": 25, "fontWeight": 700, "color": "#131722"},
"encoding": {"y": {"field": "vol", "type": "quantitative", "scale": {"domain": [-8.7, 743.4], "nice": false, "zero": false}, "axis": null}, "text": {"field": "txt"}}},
{"data": {"name": "vnotes"}, "transform": [{"filter": "datum.id === 'tvl'"}],
"mark": {"type": "text", "align": "left", "baseline": "middle", "font": "Inter", "fontSize": 30, "fontWeight": 900, "color": "#131722"},
"encoding": {"y": {"field": "vol", "type": "quantitative", "scale": {"domain": [-8.7, 743.4], "nice": false, "zero": false}, "axis": null}, "text": {"field": "txt"}}}
],
"resolve": {"scale": {"y": "independent", "color": "independent", "fill": "independent", "stroke": "independent"}, "axis": {"y": "independent"}}
}
